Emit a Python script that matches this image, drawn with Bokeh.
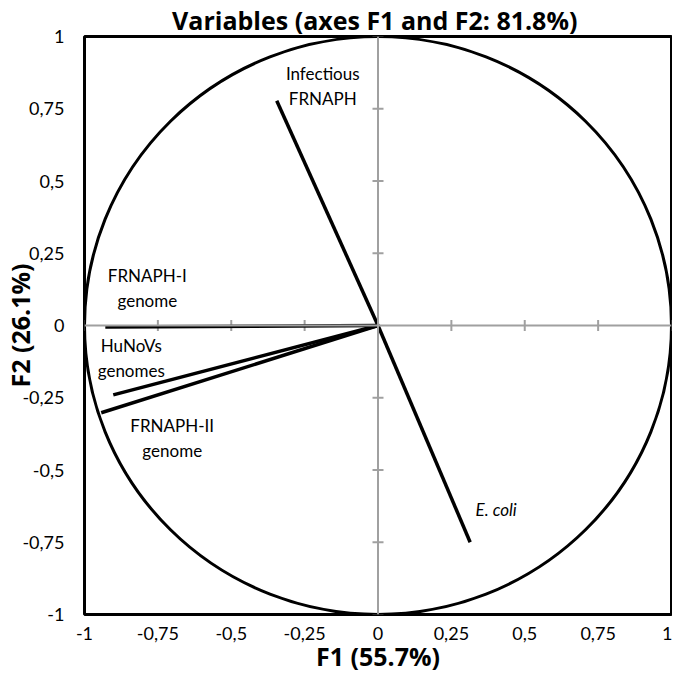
import math
from bokeh.plotting import figure
from bokeh.models import Range1d, FixedTicker, Span, ColumnDataSource
from bokeh.core.properties import value
from bokeh.embed import file_html
from bokeh.resources import INLINE

# ---- data ----
variables = ["Infectious\nFRNAPH", "FRNAPH-I\ngenome", "HuNoVs\ngenomes", "FRNAPH-II\ngenome", "E. coli"]
f1 = [-0.345, -0.929, -0.902, -0.943, 0.314]
f2 = [0.778, -0.005, -0.240, -0.302, -0.750]
tick_values = [-1, -0.75, -0.5, -0.25, 0, 0.25, 0.5, 0.75, 1]
tick_labels = ["-1", "-0,75", "-0,5", "-0,25", "0", "0,25", "0,5", "0,75", "1"]

# label placement (screen offsets from the vector tip, px)
label_dx = [46, 42, 18, 71, 26]
label_dy = [-15, -39, -37, 25, -33]

FONT = "Lato"
BOLD_FONT = "Open Sans"

p = figure(width=672, height=675, output_backend="svg", toolbar_location=None,
           x_range=Range1d(-1, 1), y_range=Range1d(-1, 1),
           min_border_left=79, min_border_right=1, min_border_top=0, min_border_bottom=56,
           title="Variables  (axes F1 and F2: 81.8%)")
p.title.align = "center"
p.title.text_font = BOLD_FONT
p.title.text_font_size = "25px"
p.title.text_font_style = "bold"
p.title.text_color = "black"
p.title.standoff = 0

p.xgrid.visible = False
p.ygrid.visible = False
p.outline_line_color = "black"
p.outline_line_width = 3
p.background_fill_color = "white"
p.border_fill_color = "white"

overrides = {v: l for v, l in zip(tick_values, tick_labels)}
for ax in (p.xaxis[0], p.yaxis[0]):
    ax.ticker = FixedTicker(ticks=tick_values)
    ax.major_label_overrides = overrides
    ax.axis_line_color = None
    ax.major_tick_line_color = None
    ax.minor_tick_line_color = None
    ax.major_tick_out = 0
    ax.major_tick_in = 0
    ax.major_label_text_font = FONT
    ax.major_label_text_font_size = "18px"
    ax.major_label_text_color = "black"
    ax.axis_label_text_font = BOLD_FONT
    ax.axis_label_text_font_size = "25px"
    ax.axis_label_text_font_style = "bold"
    ax.axis_label_text_color = "black"

p.xaxis.axis_label = "F1 (55.7%)"
p.yaxis.axis_label = "F2 (26.1%)"
p.xaxis.major_label_standoff = 12
p.xaxis.axis_label_standoff = -4
p.yaxis.major_label_standoff = 20
p.yaxis.axis_label_standoff = -18

# center axes
grey = "#a0a0a0"
p.add_layout(Span(location=0, dimension="height", line_color=grey, line_width=2))
p.add_layout(Span(location=0, dimension="width", line_color=grey, line_width=2))
inner = [t for t in tick_values if t != 0]
p.scatter(x=inner, y=[0] * len(inner), marker="dash", size=11, angle=math.pi / 2,
          line_color=grey, line_width=2)
p.scatter(x=[0] * len(inner), y=inner, marker="dash", size=11,
          line_color=grey, line_width=2)

# correlation circle
p.ellipse(x=0, y=0, width=2, height=2, fill_color=None, line_color="black", line_width=3)

# vectors
src = ColumnDataSource(dict(x0=[0] * len(f1), y0=[0] * len(f2), x1=f1, y1=f2))
p.segment(x0="x0", y0="y0", x1="x1", y1="y1", source=src, line_color="black", line_width=3.5)

normal = [i for i, n in enumerate(variables) if n != "E. coli"]
italic = [i for i, n in enumerate(variables) if n == "E. coli"]
for idx, style in ((normal, "normal"), (italic, "italic")):
    s = ColumnDataSource(dict(x=[f1[i] for i in idx], y=[f2[i] for i in idx],
                              t=[variables[i] for i in idx],
                              dx=[label_dx[i] for i in idx], dy=[label_dy[i] for i in idx]))
    p.text(x="x", y="y", text="t", source=s, x_offset="dx", y_offset="dy",
           text_align="center", text_baseline="middle", text_font=value(FONT),
           text_font_size="17px", text_font_style=style, text_color="black",
           text_line_height=1.2)

open("out.html", "w").write(file_html(p, INLINE))
